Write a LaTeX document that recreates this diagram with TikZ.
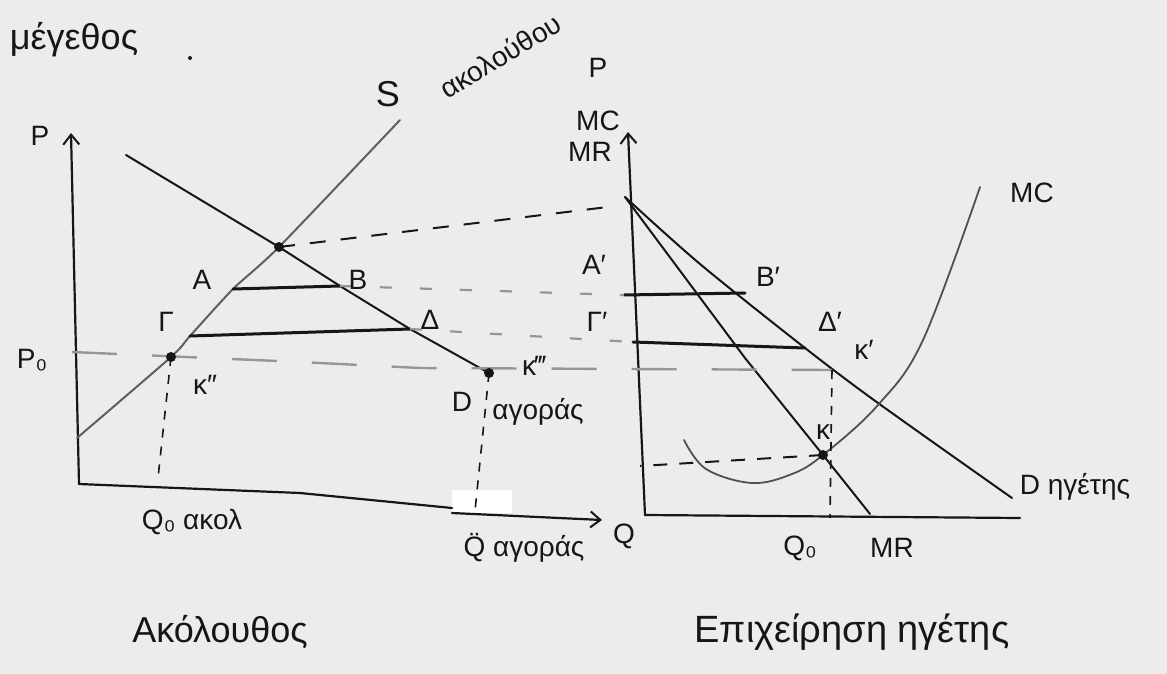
\documentclass[tikz,border=0pt]{standalone}
\usepackage{fontspec}
\setmainfont{Liberation Sans}
\usetikzlibrary{arrows.meta}
\definecolor{paper}{RGB}{236,236,236}
\definecolor{ink}{RGB}{22,22,22}
\definecolor{pencil}{RGB}{95,95,95}
\definecolor{faint}{RGB}{150,150,150}
\tikzset{
  lbl/.style={font=\fontsize{28}{32}\selectfont, text=ink, inner sep=0pt},
  big/.style={font=\fontsize{36}{40}\selectfont, text=ink, inner sep=0pt},
  axisline/.style={draw=ink, line width=2.2pt, line cap=round, line join=round},
  curveline/.style={draw=ink, line width=2pt, line cap=round, line join=round},
  supplyline/.style={draw=pencil, line width=2pt, line cap=round},
  mcline/.style={draw=pencil!80!ink, line width=1.8pt, line cap=round},
  segline/.style={draw=ink, line width=3pt, line cap=round},
  guide/.style={draw=ink, line width=2pt, dash pattern=on 16pt off 15pt},
  faintguide/.style={draw=faint, line width=2.2pt, dash pattern=on 12pt off 28pt},
  pzero/.style={draw=faint, line width=2.4pt, dash pattern=on 45pt off 35pt},
  drop/.style={draw=ink, line width=1.6pt, dash pattern=on 9pt off 9pt},
  dot/.style={circle, fill=ink, inner sep=0pt, minimum size=10pt},
  axarrow/.style={-{Straight Barb[length=10pt,width=16pt,line width=2pt]}},
}
\begin{document}
\begin{tikzpicture}[x=1pt,y=-1pt]
\fill[paper] (0,0) rectangle (1167,674);
\useasboundingbox (0,0) rectangle (1167,674);

% ---------- left panel: follower ----------
\coordinate (oL) at (79,484);
\coordinate (topL) at (71,133);
\coordinate (xL1) at (452,508);
\coordinate (xL2) at (452,513);
\coordinate (xLend) at (602,520);
% supply
\coordinate (s0) at (77,438);
\coordinate (K2) at (171,357);
\coordinate (G) at (190,336);
\coordinate (A) at (233,289);
\coordinate (E) at (279,247);
\coordinate (s1) at (400,120);
% market demand
\coordinate (d0) at (126,155);
\coordinate (B) at (340,286);
\coordinate (Dl) at (410,329);
\coordinate (K3) at (489,373);
% guide ends
\coordinate (K2foot) at (158,478);
\coordinate (K3foot) at (475,511);
\coordinate (p0start) at (72,352);

% white patch on the axis
\fill[white] (452,490) rectangle (512,513);

\draw[axisline, axarrow] (oL) -- (topL);
\draw[axisline] (oL) -- (300,493) -- (xL1);
\draw[axisline, axarrow] (xL2) -- (xLend);

\draw[supplyline] plot[smooth, tension=0.4] coordinates {(s0) (K2) (G) (A) (E) (s1)};
\draw[curveline] (d0) -- (E) -- (B) -- (Dl) -- (K3);
\draw[segline] (A) -- (B);
\draw[segline] (G) -- (Dl);

% ---------- right panel: leader ----------
\coordinate (oR) at (645,515);
\coordinate (topR) at (628,132);
\coordinate (xRend) at (1020,518);
\coordinate (Dtop) at (625,197);
\coordinate (Dend) at (1012,498);
\coordinate (MRend) at (870,514);
\coordinate (Ap) at (624,295);
\coordinate (Bp) at (745,293);
\coordinate (Gp) at (633,342);
\coordinate (Dp) at (805,348);
\coordinate (Kp) at (832,370);
\coordinate (K) at (823,455);
\coordinate (Kfoot) at (830,518);
\coordinate (Kaxis) at (640,466);
\coordinate (Etarget) at (616,206);

\draw[axisline, axarrow] (oR) -- (topR);
\draw[axisline] (oR) -- (xRend);
\draw[curveline] plot[smooth, tension=0.5] coordinates {(Dtop) (700,264) (Dp) (878,403) (Dend)};
\draw[curveline] (Dtop) -- (745,358) -- (K) -- (MRend);
\draw[mcline] plot[smooth, tension=0.6] coordinates {(684,440) (706,469) (752,483) (792,474) (K) (878,405) (923,340) (980,187)};
\draw[segline] (Ap) -- (Bp);
\draw[segline] (Gp) -- (Dp);

% ---------- dashed guides ----------
\draw[guide] (E) -- (Etarget);
\draw[faintguide] (B) -- (Ap);
\draw[faintguide] (Dl) -- (Gp);
\draw[pzero] (p0start) -- (300,362) -- (420,368) -- (Kp);
\draw[drop] (K2) -- (K2foot);
\draw[drop] (K3) -- (K3foot);
\draw[drop] (Kp) -- (Kfoot);
\draw[guide, dash pattern=on 14pt off 12pt] (K) -- (Kaxis);

% ---------- points ----------
\node[dot] (Edot) at (E) {};
\node[dot] (K2dot) at (K2) {};
\node[dot] (K3dot) at (K3) {};
\node[dot] (Kdot) at (K) {};
\fill[ink] (190,58) circle (2pt);

% ---------- labels ----------
\node[big] (title) at (74,40) {μέγεθος};
\node[big] (Slbl) at (388,94) {S};
\node[lbl, rotate=31] (Sname) at (500,56) {ακολούθου};
\node[lbl] (PL) at (40,136) {P};
\node[lbl] (P0) at (32,360) {P₀};
\node[lbl] (Albl) at (202,280) {A};
\node[lbl] (Blbl) at (358,280) {B};
\node[lbl] (Glbl) at (166,322) {Γ};
\node[lbl] (Dlbl) at (430,320) {Δ};
\node[lbl] (K2lbl) at (205,385) {κ″};
\node[lbl] (K3lbl) at (534,366) {κ‴};
\node[lbl] (Dmk) at (462,402) {D};
\node[lbl] (Dmkname) at (538,412) {αγοράς};
\node[lbl] (Q0L) at (192,522) {Q₀ ακολ};
\node[lbl] (Qmk) at (524,548) {Q̈ αγοράς};
\node[lbl] (QL) at (624,536) {Q};
\node[big] (follower) at (220,632) {Ακόλουθος};

\node[lbl] (PR) at (598,68) {P};
\node[lbl] (MCax) at (598,121) {MC};
\node[lbl] (MRax) at (590,152) {MR};
\node[lbl] (MClbl) at (1032,193) {MC};
\node[lbl] (Aplbl) at (594,265) {A′};
\node[lbl] (Bplbl) at (768,277) {B′};
\node[lbl] (Gplbl) at (597,322) {Γ′};
\node[lbl] (Dplbl) at (830,322) {Δ′};
\node[lbl] (Kplbl) at (864,350) {κ′};
\node[lbl] (Klbl) at (823,432) {κ};
\node[lbl] (Dldr) at (1075,487) {D ηγέτης};
\node[lbl] (Q0R) at (800,548) {Q₀};
\node[lbl] (MRlbl) at (892,548) {MR};
\node[big, font=\fontsize{38}{42}\selectfont] (leader) at (852,632) {Επιχείρηση ηγέτης};
\end{tikzpicture}
\end{document}
